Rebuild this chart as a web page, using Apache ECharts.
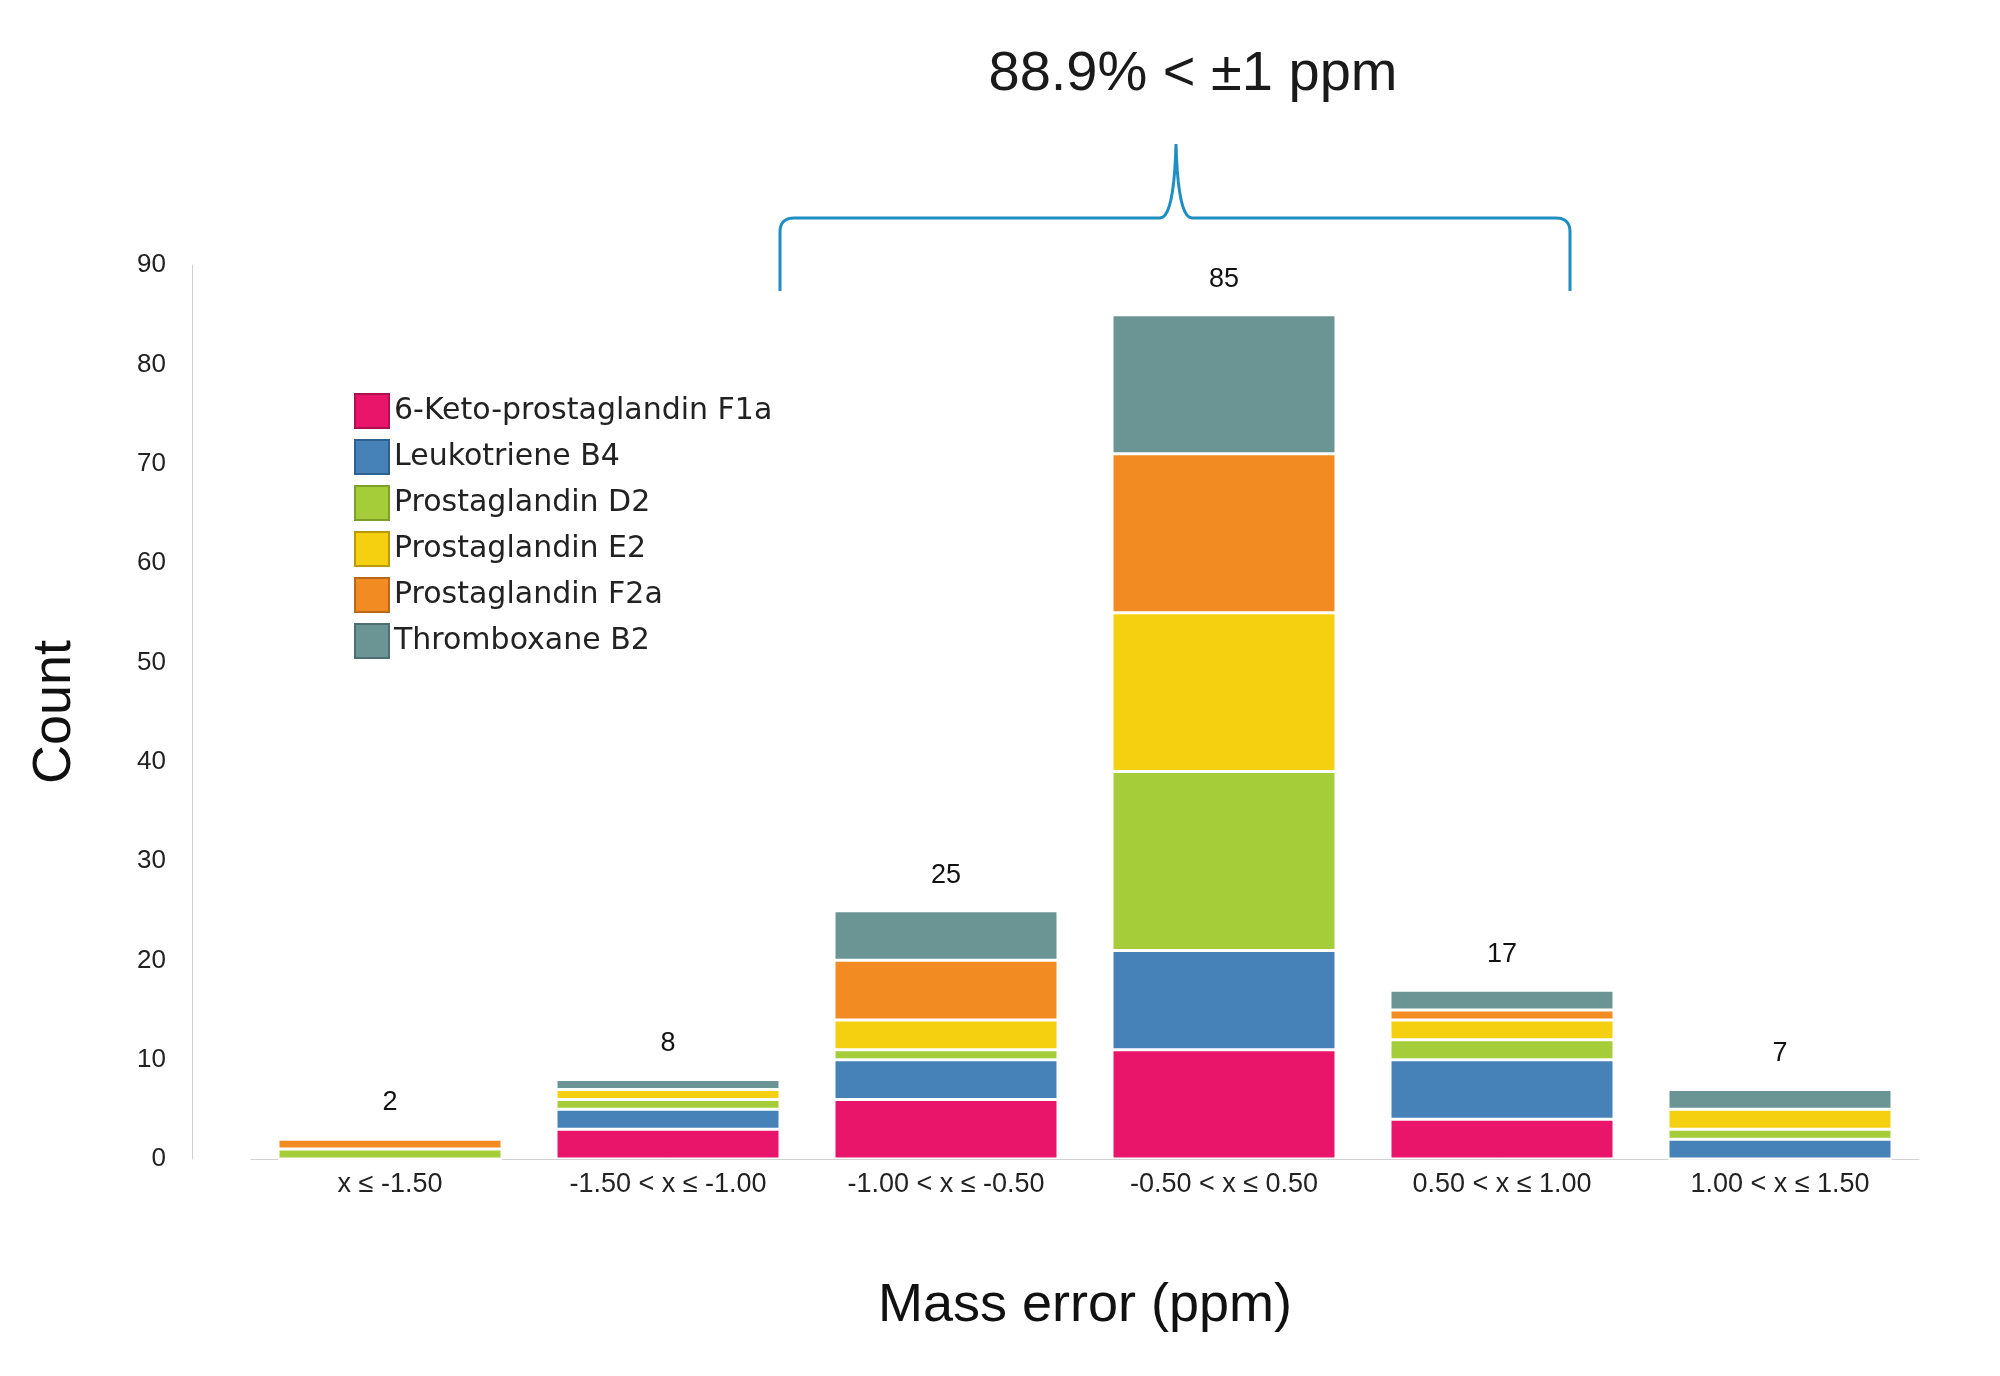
<!DOCTYPE html>
<html>
<head>
<meta charset="utf-8">
<script src="https://cdn.jsdelivr.net/npm/echarts@6/dist/echarts.min.js"></script>
<style>html,body{margin:0;background:#fff}#chart{width:2000px;height:1376px}</style>
</head>
<body>
<div id="chart"></div>
<script>
var categories = ['x ≤ -1.50', '-1.50 < x ≤ -1.00', '-1.00 < x ≤ -0.50', '-0.50 < x ≤ 0.50', '0.50 < x ≤ 1.00', '1.00 < x ≤ 1.50'];
var ketoF1a = [0, 3, 6, 11, 4, 0];
var leukB4 = [0, 2, 4, 10, 6, 2];
var prostD2 = [1, 1, 1, 18, 2, 1];
var prostE2 = [0, 1, 3, 16, 2, 2];
var prostF2a = [1, 0, 6, 16, 1, 0];
var thromB2 = [0, 1, 5, 14, 2, 2];
var totals = [2, 8, 25, 85, 17, 7];

var names = ['6-Keto-prostaglandin F1a', 'Leukotriene B4', 'Prostaglandin D2', 'Prostaglandin E2', 'Prostaglandin F2a', 'Thromboxane B2'];
var colors = ['#e8156b', '#4682b8', '#a5cd3a', '#f4d011', '#f28c22', '#6b9595'];
var borders = ['#b01050', '#2f6190', '#7f9e2a', '#b89a0c', '#b86818', '#4d6f6f'];
var values = [ketoF1a, leukB4, prostD2, prostE2, prostF2a, thromB2];

// quadratic curve points for the brace
function quad(p0, c, p1) {
  var pts = [];
  for (var t = 0; t <= 1.0001; t += 0.1) {
    var a = (1 - t) * (1 - t), b = 2 * (1 - t) * t, d = t * t;
    pts.push([a * p0[0] + b * c[0] + d * p1[0], a * p0[1] + b * c[1] + d * p1[1]]);
  }
  return pts;
}
var brace = [[780, 291]]
  .concat(quad([780, 232], [780, 218], [794, 218]))
  .concat(quad([1160, 218], [1174, 218], [1176, 144]))
  .concat(quad([1176, 144], [1178, 218], [1192, 218]))
  .concat(quad([1556, 218], [1570, 218], [1570, 232]))
  .concat([[1570, 291]]);

var chart = echarts.init(document.getElementById('chart'));

var series = values.map(function (v, i) {
  var s = {
    name: names[i],
    type: 'bar',
    stack: 'all',
    barWidth: 224,
    data: v,
    itemStyle: { color: colors[i], borderColor: '#fff', borderWidth: 1.5 }
  };
  if (i === values.length - 1) {
    s.label = {
      show: true,
      position: 'top',
      distance: 22,
      fontSize: 27,
      color: '#111',
      formatter: function (p) { return totals[p.dataIndex]; }
    };
  }
  return s;
});

chart.setOption({
  animation: false,
  textStyle: { fontFamily: 'Liberation Sans' },
  title: {
    text: '88.9% < ±1 ppm',
    left: 1188,
    top: 42,
    textAlign: 'center',
    textStyle: { fontSize: 56, fontWeight: 'normal', color: '#1a1a1a' }
  },
  legend: {
    orient: 'vertical',
    left: 349,
    top: 388,
    itemWidth: 34,
    itemHeight: 34,
    itemGap: 10,
    textStyle: { fontSize: 30, color: '#222', fontFamily: 'DejaVu Sans' },
    data: names.map(function (n, i) {
      return { name: n, icon: 'rect', itemStyle: { color: colors[i], borderColor: borders[i], borderWidth: 2 } };
    })
  },
  grid: { left: 251, right: 81, top: 265, bottom: 217 },
  xAxis: {
    type: 'category',
    data: categories,
    axisLine: { lineStyle: { color: '#d0d0d0' } },
    axisTick: { show: false },
    axisLabel: { fontSize: 27, color: '#222', margin: 12 },
    name: 'Mass error (ppm)',
    nameLocation: 'middle',
    nameGap: 120,
    nameTextStyle: { fontSize: 54, color: '#111' }
  },
  yAxis: {
    type: 'value',
    min: 0,
    max: 90,
    interval: 10,
    offset: 59,
    axisLine: { show: true, lineStyle: { color: '#d0d0d0' } },
    axisTick: { show: false },
    splitLine: { show: false },
    axisLabel: { fontSize: 26, color: '#222', margin: 26 },
    name: 'Count',
    nameLocation: 'middle',
    nameRotate: 90,
    nameGap: 110,
    nameTextStyle: { fontSize: 54, color: '#111' }
  },
  graphic: [{
    type: 'polyline',
    shape: { points: brace },
    style: { fill: null, stroke: '#1f8ec2', lineWidth: 3 }
  }],
  series: series
});
</script>
</body>
</html>
